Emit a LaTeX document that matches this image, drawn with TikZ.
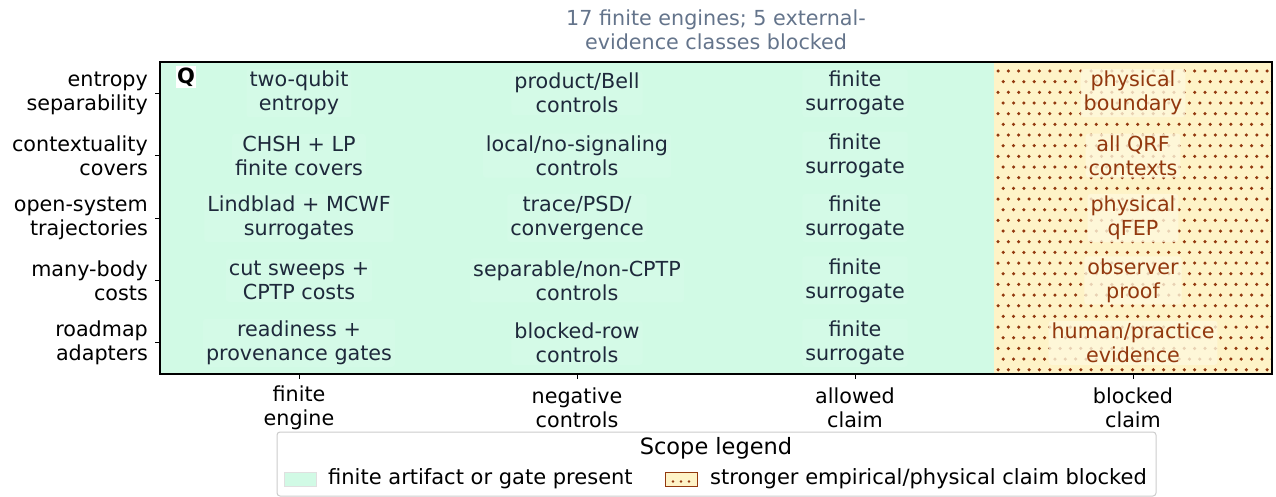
\documentclass[tikz,border=0pt]{standalone}
\usepackage{fontspec}
\setmainfont{DejaVu Sans}
\definecolor{mint}{RGB}{209,250,229}
\definecolor{amber}{RGB}{254,243,199}
\definecolor{dotbrown}{RGB}{146,56,14}
\definecolor{inkdark}{RGB}{30,41,59}
\definecolor{titlegray}{RGB}{100,116,139}
\tikzset{
  base/.style={font=\fontsize{20.7}{24}\selectfont, align=center, inner sep=0pt},
  cell/.style={base, text=inkdark, fill=white, fill opacity=0.08, text opacity=1,
               rounded corners=3pt, inner xsep=3pt, inner ysep=2pt},
  blockedcell/.style={cell, text=dotbrown, fill=amber!60!white, fill opacity=0.8},
  ticklab/.style={base, text=black},
  tickmark/.style={line width=1pt, black},
  spine/.style={line width=1.2pt, black},
}
\begin{document}
\begin{tikzpicture}[x=1pt,y=-1pt]
\useasboundingbox (0,0) rectangle (1276,497);

% ---- cell backgrounds ----
\fill[mint] (160,62) rectangle (994,374);
\fill[amber] (994,62) rectangle (1272,374);
\begin{scope}
  \clip (994,62) rectangle (1272,374);
  \foreach \yy in {0,...,29} {
    \pgfmathsetmacro{\shift}{mod(\yy,2)*5.17}
    \foreach \xx in {0,...,27} {
      \fill[dotbrown] (998+\shift+\xx*10.35, 71+\yy*10.67) circle (1.75);
    }
  }
\end{scope}
\draw[spine] (160,62) rectangle (1272,374);

% ---- title ----
\node[base, text=titlegray] (title) at (716,30) {17 finite engines; 5 external-\\evidence classes blocked};

% ---- row labels and ticks ----
\foreach \yc in {93.2,155.6,218,280.4,342.8} {
  \draw[tickmark] (155,\yc) -- (160,\yc);
}
\node[ticklab, anchor=east, align=right] (r1) at (148,93.2) {entropy\\separability};
\node[ticklab, anchor=east, align=right] (r2) at (148,155.6) {contextuality\\covers};
\node[ticklab, anchor=east, align=right] (r3) at (148,218) {open-system\\trajectories};
\node[ticklab, anchor=east, align=right] (r4) at (148,280.4) {many-body\\costs};
\node[ticklab, anchor=east, align=right] (r5) at (148,342.8) {roadmap\\adapters};

% ---- column labels and ticks ----
\foreach \xc in {299,577,855,1133} {
  \draw[tickmark] (\xc,374) -- (\xc,379);
}
\node[ticklab] (k1) at (299,408) {finite\\engine};
\node[ticklab] (k2) at (577,408) {negative\\controls};
\node[ticklab] (k3) at (855,408) {allowed\\claim};
\node[ticklab] (k4) at (1133,408) {blocked\\claim};

% ---- cell texts ----
\node[cell] (c11) at (299,93.2) {two-qubit\\entropy};
\node[cell] (c12) at (577,93.2) {product/Bell\\controls};
\node[cell] (c13) at (855,93.2) {finite\\surrogate};
\node[blockedcell] (c14) at (1133,93.2) {physical\\boundary};

\node[cell] (c21) at (299,155.6) {CHSH + LP\\finite covers};
\node[cell] (c22) at (577,155.6) {local/no-signaling\\controls};
\node[cell] (c23) at (855,155.6) {finite\\surrogate};
\node[blockedcell] (c24) at (1133,155.6) {all QRF\\contexts};

\node[cell] (c31) at (299,218) {Lindblad + MCWF\\surrogates};
\node[cell] (c32) at (577,218) {trace/PSD/\\convergence};
\node[cell] (c33) at (855,218) {finite\\surrogate};
\node[blockedcell] (c34) at (1133,218) {physical\\qFEP};

\node[cell] (c41) at (299,280.4) {cut sweeps +\\CPTP costs};
\node[cell] (c42) at (577,280.4) {separable/non-CPTP\\controls};
\node[cell] (c43) at (855,280.4) {finite\\surrogate};
\node[blockedcell] (c44) at (1133,280.4) {observer\\proof};

\node[cell] (c51) at (299,342.8) {readiness +\\provenance gates};
\node[cell] (c52) at (577,342.8) {blocked-row\\controls};
\node[cell] (c53) at (855,342.8) {finite\\surrogate};
\node[blockedcell] (c54) at (1133,342.8) {human/practice\\evidence};

% ---- panel tag ----
\node[base, font=\fontsize{21}{24}\selectfont\bfseries, fill=white, inner sep=1.5pt] (tag) at (186,77) {Q};

% ---- legend ----
\draw[black!20, line width=1pt, fill=white, rounded corners=3pt] (277,432) rectangle (1156,496);
\node[base, font=\fontsize{22.5}{26}\selectfont] (legtitle) at (716,448) {Scope legend};
\draw[fill=mint, draw=black!12, line width=0.8pt] (284,472.5) rectangle (316,486) node (patchA) {};
\node[base, anchor=west, font=\fontsize{21}{24}\selectfont] (legA) at (328,479) {finite artifact or gate present};
\draw[fill=amber, draw=dotbrown, line width=1pt] (665,472.5) rectangle (697,486) node (patchB) {};
\foreach \dx in {673,681,689} { \fill[dotbrown] (\dx,481.5) circle (1.4); }
\node[base, anchor=west, font=\fontsize{21}{24}\selectfont] (legB) at (710,479) {stronger empirical/physical claim blocked};
\end{tikzpicture}
\end{document}
